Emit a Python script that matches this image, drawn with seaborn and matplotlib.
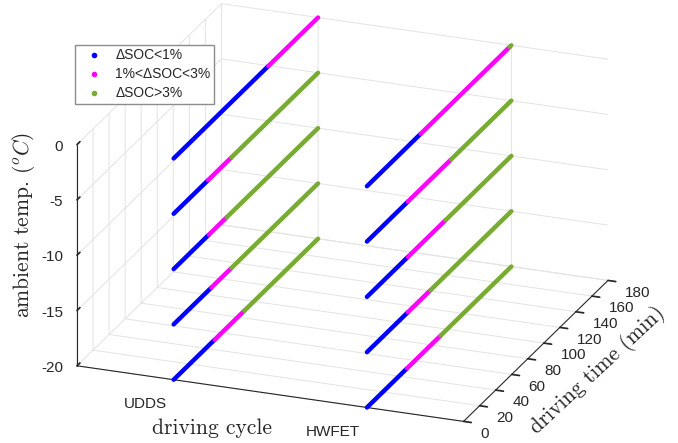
import numpy as np
import matplotlib
matplotlib.use('Agg')
import matplotlib.pyplot as plt
import seaborn as sns
from matplotlib.lines import Line2D
from mpl_toolkits.mplot3d import proj3d

# ---------------- data ----------------
cycles = ['UDDS', 'HWFET']
temps = [0, -5, -10, -15, -20]
time_max = 180
# driving time (min) at which dSOC class changes, per temperature
udds_blue_end = [118, 43, 44, 47, 51]
udds_magenta_end = [180, 72, 66, 72, 88]
hwfet_blue_end = [67, 51, 51, 51, 50]
hwfet_magenta_end = [178, 105, 98, 79, 92]
time_ticks = [0, 20, 40, 60, 80, 100, 120, 140, 160, 180]
temp_ticks = [-20, -15, -10, -5, 0]
class_labels = ['\u0394SOC<1%', '1%<\u0394SOC<3%', '\u0394SOC>3%']
class_colors = ['#0000ff', '#ff00ff', '#77ac30']

# ---------------- style ----------------
sns.set_theme(style='white')
plt.rcParams['font.family'] = ['Liberation Sans', 'DejaVu Sans']
plt.rcParams['axes.unicode_minus'] = False
plt.rcParams['mathtext.fontset'] = 'cm'
plt.rcParams['grid.color'] = '#e3e3e3'
plt.rcParams['grid.linewidth'] = 0.7
plt.rcParams['axes.edgecolor'] = '#262626'
plt.rcParams['axes.linewidth'] = 0.8

W, H = 678, 443
fig = plt.figure(figsize=(W / 100, H / 100), dpi=100)
ax = fig.add_axes([0, 0, 1, 1], projection='3d', proj_type='ortho')
ax.view_init(elev=22, azim=-69)
ax.set_box_aspect((413, 402, 238))

blues = {'UDDS': udds_blue_end, 'HWFET': hwfet_blue_end}
mags = {'UDDS': udds_magenta_end, 'HWFET': hwfet_magenta_end}
for ci, cyc in enumerate(cycles):
    xv = ci + 1
    for ti, temp in enumerate(temps):
        bounds = [0, blues[cyc][ti], mags[cyc][ti], time_max]
        for k in range(3):
            t0, t1 = bounds[k], bounds[k + 1]
            if t1 <= t0:
                continue
            ax.plot([xv, xv], [t0, t1], [temp, temp], color=class_colors[k],
                    lw=3.2, solid_capstyle='round')

ax.set_xlim(0.5, 2.5)
ax.set_ylim(0, time_max)
ax.set_zlim(-20, 0)
ax.set_xticks([1, 2])
ax.set_xticklabels(cycles, ha='right', va='top')
ax.set_yticks(time_ticks)
ax.set_yticklabels([str(t) for t in time_ticks], ha='left', va='center')
ax.set_zticks(temp_ticks)
ax.set_zticklabels([str(t) for t in temp_ticks], ha='right', va='center')
ax.tick_params(labelsize=11, colors='#262626', pad=2)
ax.xaxis.set_tick_params(pad=3)
ax.zaxis.set_tick_params(pad=-2)
ax.zaxis.set_ticks_position('lower')
ax.zaxis.set_label_position('lower')
ax.xaxis._axinfo['tick']['inward_factor'] = 0.0
ax.xaxis._axinfo['tick']['outward_factor'] = 0.2
ax.yaxis._axinfo['tick']['inward_factor'] = 0.25
ax.yaxis._axinfo['tick']['outward_factor'] = 0.0
ax.zaxis._axinfo['tick']['inward_factor'] = 0.0
ax.zaxis._axinfo['tick']['outward_factor'] = 0.25
ax.grid(True)
for axis in (ax.xaxis, ax.yaxis, ax.zaxis):
    axis.set_pane_color((1, 1, 1, 0))
    axis.pane.set_edgecolor('#e3e3e3')

# axis titles (LaTeX-like serif, as in the original)
lab_font = dict(family='cmr10', size=15.5, color='#262626')
fig.text(212 / W, 1 - 428 / H, 'driving cycle', ha='center', va='center', **lab_font)
fig.text(598 / W, 1 - 370 / H, 'driving time (min)', ha='center', va='center',
         rotation=43, rotation_mode='anchor', **lab_font)
fig.text(24 / W, 1 - 225 / H, r'ambient temp. $(^oC)$', ha='center', va='center',
         rotation=90, rotation_mode='anchor', **lab_font)

handles = [Line2D([], [], ls='none', marker='.', ms=6, color=c) for c in class_colors]
fig.legend(handles, class_labels, loc='upper left',
           bbox_to_anchor=(75 / W, 1 - 45 / H), bbox_transform=fig.transFigure,
           fancybox=False, framealpha=1, edgecolor='#8c8c8c', fontsize=10,
           handlelength=2.2, handletextpad=0.45, borderpad=0.25, labelspacing=0.36,
           borderaxespad=0)

# ---- fit the projected box to the reference layout ----
tx0, tx1 = 77, 608          # target left/right of box (px)
ty0, ty1 = H - 420, H - 5   # target bottom/top of box (px, from bottom)
for _ in range(3):
    fig.canvas.draw()
    M = ax.get_proj()
    cx, cy, cz = np.meshgrid([0.5, 2.5], [0, time_max], [-20, 0])
    xs, ys, _z = proj3d.proj_transform(cx.ravel(), cy.ravel(), cz.ravel(), M)
    pts = ax.transData.transform(np.column_stack([xs, ys]))
    bx0, by0 = pts.min(axis=0)
    bx1, by1 = pts.max(axis=0)
    pos = ax.get_position()
    ax_w = pos.width * W
    ax_cx = (pos.x0 + pos.width / 2) * W
    ax_cy = (pos.y0 + pos.height / 2) * H
    f = (tx1 - tx0) / (bx1 - bx0)
    dx = (bx0 + bx1) / 2 - ax_cx
    dy = (by0 + by1) / 2 - ax_cy
    side = ax_w * f
    ncx = (tx0 + tx1) / 2 - f * dx
    ncy = (ty0 + ty1) / 2 - f * dy
    ax.set_position([(ncx - side / 2) / W, (ncy - side / 2) / H, side / W, side / H])

fig.savefig('out.png', dpi=100)
